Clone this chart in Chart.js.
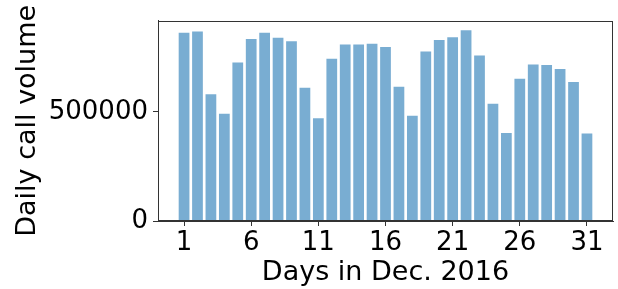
<!DOCTYPE html>
<html><head><meta charset="utf-8">
<script src="https://cdn.jsdelivr.net/npm/chart.js@4/dist/chart.umd.min.js"></script>
<style>html,body{margin:0;padding:0;background:#fff}#wrap{width:618px;height:289px}</style>
</head><body><div id="wrap"><canvas id="c" width="618" height="289"></canvas></div>
<script>
const days = [1,2,3,4,5,6,7,8,9,10,11,12,13,14,15,16,17,18,19,20,21,22,23,24,25,26,27,28,29,30,31];
const callVolume = [863000,869000,581000,492000,727000,834000,863000,840000,824000,611000,471000,744000,809000,809000,813000,798000,615000,483000,777000,830000,842000,875000,759000,538000,404000,652000,718000,715000,697000,637000,401000];
const xTicks = [1,6,11,16,21,26,31];
const yTicks = [0,500000];
const xLabel = 'Days in Dec. 2016';
const yLabel = 'Daily call volume';

const FONT = 'DejaVu Sans';
const frame = {
  id:'frame',
  afterDatasetsDraw(chart){
    const a = chart.chartArea, ctx = chart.ctx;
    ctx.save(); ctx.strokeStyle='#333'; ctx.lineWidth=1;
    ctx.strokeRect(Math.round(a.left)+0.5, Math.round(a.top)+0.5, Math.round(a.right-a.left)-1, Math.round(a.bottom-a.top)-1);
    ctx.restore();
  }
};
const ymax = Math.max(...callVolume)*1.05;
new Chart(document.getElementById('c'), {
  type:'bar',
  data:{datasets:[{data: days.map((d,i)=>({x:d,y:callVolume[i]})), backgroundColor:'rgba(31,119,180,0.6)', borderWidth:0, barPercentage:0.8, categoryPercentage:1.0}]},
  options:{
    responsive:false, animation:false, devicePixelRatio:1,
    layout:{padding:{top:18,right:5,left:0,bottom:0}},
    plugins:{legend:{display:false},tooltip:{enabled:false}},
    scales:{
      x:{type:'linear', min:-0.94, max:32.94, offset:false,
        afterBuildTicks(s){ s.ticks = xTicks.map(v=>({value:v})); },
        afterFit(s){ s.height = 68; },
        grid:{offset:false, drawOnChartArea:false, drawTicks:true, tickLength:5, color:'#333'},
        border:{display:true,color:'#333'},
        ticks:{font:{family:FONT,size:26}, color:'#000', padding:2, maxRotation:0, autoSkip:false},
        title:{display:true, text:xLabel, font:{family:FONT,size:27}, color:'#000', padding:{top:0,bottom:0}}
      },
      y:{min:0, max:ymax,
        afterBuildTicks(s){ s.ticks = yTicks.map(v=>({value:v})); },
        afterFit(s){ s.width = 158; },
        grid:{drawOnChartArea:false, drawTicks:true, tickLength:5, color:'#333'},
        border:{display:true,color:'#333'},
        ticks:{font:{family:FONT,size:26}, color:'#000', padding:5, callback:v=>String(v)},
        title:{display:true, text:yLabel, font:{family:FONT,size:27}, color:'#000', padding:{top:12,bottom:0}}
      }
    }
  },
  plugins:[frame]
});
</script></body></html>
